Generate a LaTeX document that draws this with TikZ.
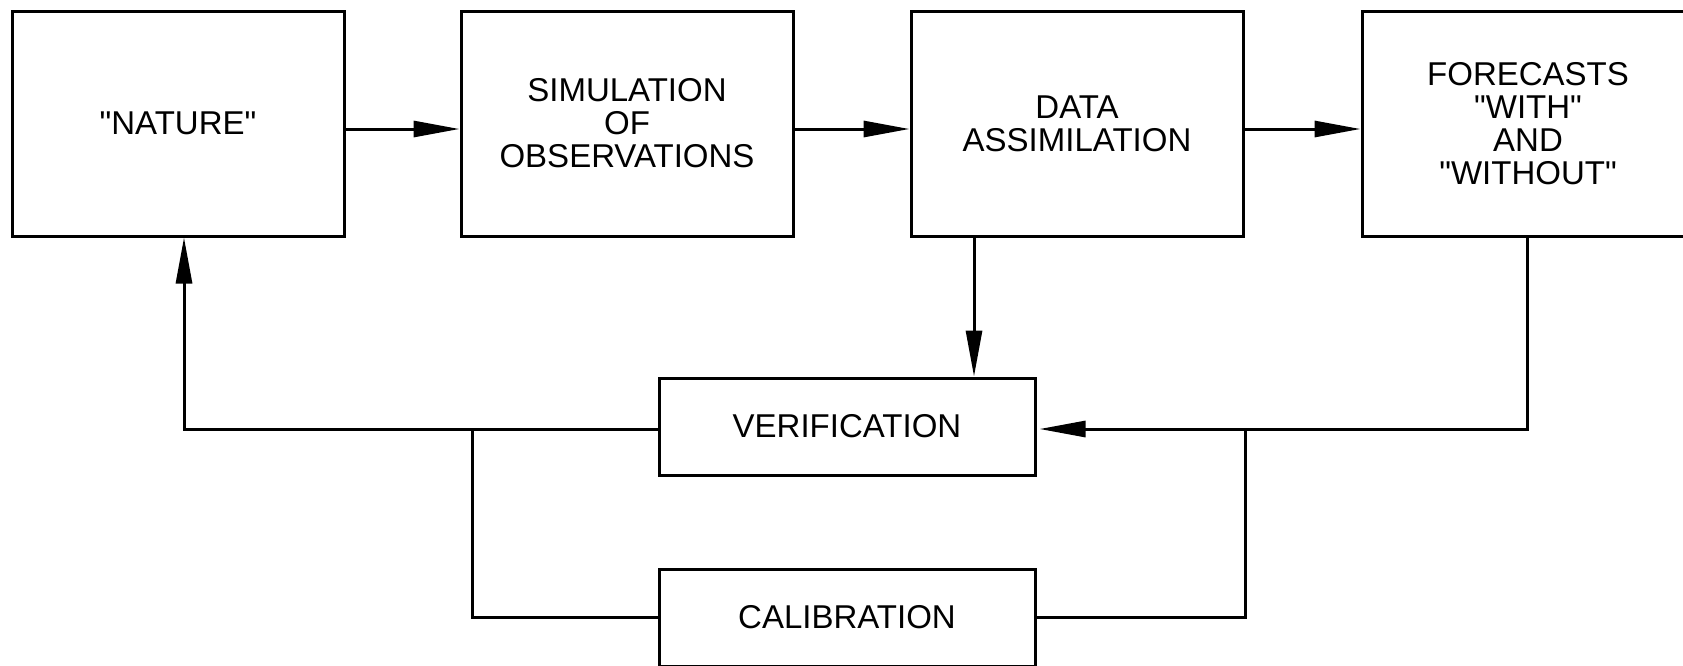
\documentclass[tikz,border=0pt]{standalone}
\usepackage{fontspec}
\setmainfont{Liberation Sans}[Ligatures=TeXOff]
\usetikzlibrary{arrows.meta,calc}
\begin{document}
\begin{tikzpicture}[x=1pt,y=-1pt,
  box/.style={draw,line width=3pt,rectangle,inner sep=0pt,align=center,
    font=\fontsize{33}{33}\selectfont},
  big/.style={box,minimum width=332pt,minimum height=225pt},
  small/.style={box,minimum width=376pt,minimum height=97pt},
  conn/.style={line width=3pt},
  arr/.style={conn,-{Triangle[length=46pt,width=16pt]}}]
\useasboundingbox (0,0) rectangle (1683,665);
\node[big] (nature) at (178,123.5) {"NATURE"};
\node[big] (sim) at (627,123.5) {SIMULATION\\OF\\OBSERVATIONS};
\node[big] (da) at (1077,123.5) {DATA\\ASSIMILATION};
\node[big] (fore) at (1528,123.5) {FORECASTS\\"WITH"\\AND\\"WITHOUT"};
\node[small] (verif) at (847,426.5) {VERIFICATION};
\node[small] (calib) at (847,617.5) {CALIBRATION};
\coordinate (row) at (0,129);
\coordinate (vrow) at (0,429);
\coordinate (crow) at (0,617);
\coordinate (dacol) at (974,0);
\coordinate (forecol) at (1527,0);
\coordinate (natcol) at (184,0);
\coordinate (ljx) at (472,0);
\coordinate (rjx) at (1245,0);
\draw[arr] (nature.east |- row) -- (sim.west |- row);
\draw[arr] (sim.east |- row) -- (da.west |- row);
\draw[arr] (da.east |- row) -- (fore.west |- row);
\draw[arr] (da.south -| dacol) -- (verif.north -| dacol);
\draw[arr,shorten >=3pt] (fore.south -| forecol) -- (forecol |- vrow) -- (verif.east |- vrow);
\draw[arr] (verif.west |- vrow) -- (natcol |- vrow) -- (nature.south -| natcol);
\draw[conn] (ljx |- vrow) -- (ljx |- crow) -- (calib.west |- crow);
\draw[conn] (calib.east |- crow) -- (rjx |- crow) -- (rjx |- vrow);
\end{tikzpicture}
\end{document}
